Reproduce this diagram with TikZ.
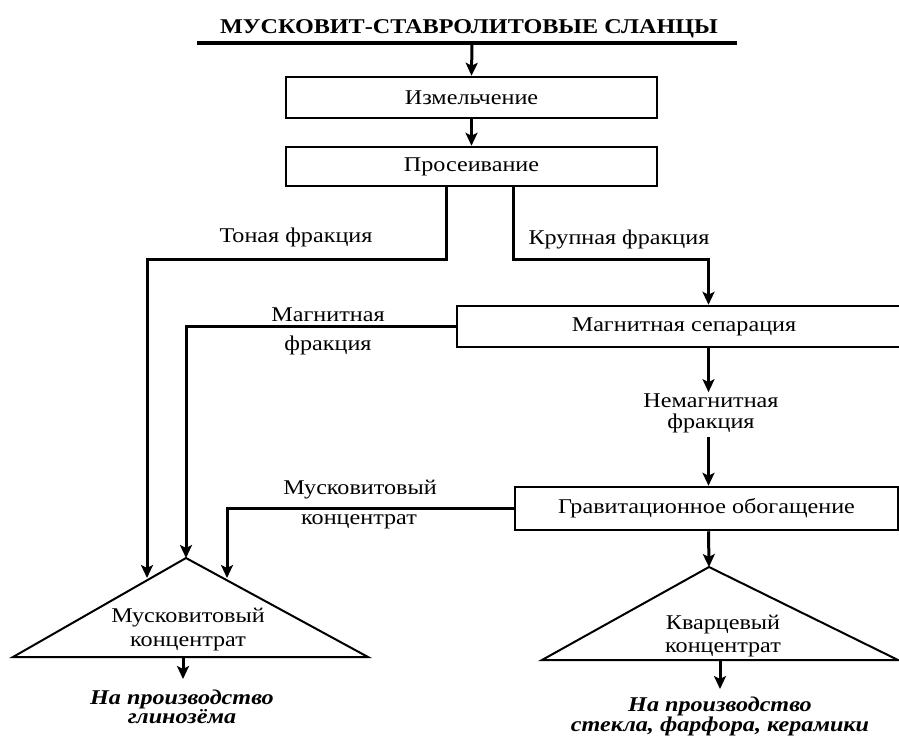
\documentclass[tikz,border=0pt]{standalone}
\usepackage{fontspec}
\setmainfont{Liberation Serif}[FakeStretch=1.15]
\usetikzlibrary{arrows.meta}

\begin{document}
\begin{tikzpicture}[line join=miter,>={Stealth[length=13pt,width=12pt,inset=3pt]},x=1pt,y=-1pt,
  box/.style={draw,line width=2.5pt,inner sep=0pt,font=\fontsize{21}{21}\selectfont},
  flow/.style={line width=3pt},
  txt/.style={inner sep=0pt,align=center,font=\fontsize{21}{21}\selectfont},
  goal/.style={inner sep=0pt,align=center,font=\bfseries\itshape\fontsize{21}{19}\selectfont}]
\useasboundingbox (0,0) rectangle (899,740);

% title and rule
\node[txt,font=\bfseries\fontsize{21}{21}\selectfont] (title) at (469,29) {МУСКОВИТ-СТАВРОЛИТОВЫЕ СЛАНЦЫ};
\coordinate (ruleW) at (197,43);
\coordinate (ruleE) at (737,43);
\coordinate (ruleM) at (472,43);
\draw[line width=4pt] (ruleW) -- (ruleE);

% process boxes
\node[box,minimum width=371pt,minimum height=41pt] (grind) at (471.5,97.5) {Измельчение};
\node[box,minimum width=371pt,minimum height=39pt] (sieve) at (471.5,166.5) {Просеивание};
\node[box,minimum width=454pt,minimum height=41pt] (magsep) at (684,326.5) {Магнитная сепарация};
\node[box,minimum width=383pt,minimum height=43pt] (grav) at (706.5,508.5) {Гравитационное обогащение};

% concentrate triangles
\coordinate (apexL) at (186,558);
\coordinate (baseLW) at (13,657);
\coordinate (baseLE) at (368,657);
\coordinate (apexR) at (709,567);
\coordinate (baseRW) at (542,660);
\coordinate (baseRE) at (898,660);
\draw[line width=2pt] (baseLW) -- (apexL) -- (baseLE) -- cycle;
\draw[line width=2pt] (baseRW) -- (apexR) -- (baseRE) -- cycle;
\node[txt,font=\fontsize{21}{24}\selectfont] (muscL) at (188,630) {Мусковитовый\\концентрат};
\node[txt,font=\fontsize{21}{23}\selectfont] (quartz) at (723,636) {Кварцевый\\концентрат};

% labels
\node[txt] (fineL) at (296,237) {Тоная фракция};
\node[txt] (coarseL) at (619,239) {Крупная фракция};
\node[txt] (magA) at (328,315) {Магнитная};
\node[txt] (magB) at (328,345) {фракция};
\node[txt] (nonmag) at (711,413) {Немагнитная\\фракция};
\node[txt] (muscA) at (360,490) {Мусковитовый};
\node[txt] (muscB) at (359,522) {концентрат};
\node[goal] (useL) at (182,707) {На производство\\глинозёма};
\node[goal] (useR) at (720,716) {На производство\\стекла, фарфора, керамики};

% bends and free ends
\coordinate (axis) at (708.5,0);
\coordinate (fine1) at (446,259);
\coordinate (fine2) at (147,578);
\coordinate (coarse1) at (513,259);
\coordinate (musc2) at (227,578);
\coordinate (outL) at (183,657);
\coordinate (outLend) at (183,679);
\coordinate (outR) at (720,660);
\coordinate (outRend) at (720,689);

% flows
\draw[flow,->] (ruleM) -- (grind.north);
\draw[flow,->] (grind.south) -- (sieve.north);
\draw[flow,->] (sieve.south -| fine1) -- (fine1) -| (fine2);
\draw[flow,->] (sieve.south -| coarse1) -- (coarse1) -| (magsep.north -| axis);
\draw[flow,->] (magsep.west) -| (apexL);
\draw[flow,->] (magsep.south -| axis) -- ([yshift=1pt]nonmag.north -| axis);
\draw[flow,->] ([yshift=-4pt]nonmag.south -| axis) -- (grav.north -| axis);
\draw[flow,->] (grav.west) -| (musc2);
\draw[flow,->] (grav.south -| axis) -- (apexR);
\draw[flow,->] (outL) -- (outLend);
\draw[flow,->] (outR) -- (outRend);
\end{tikzpicture}
\end{document}
